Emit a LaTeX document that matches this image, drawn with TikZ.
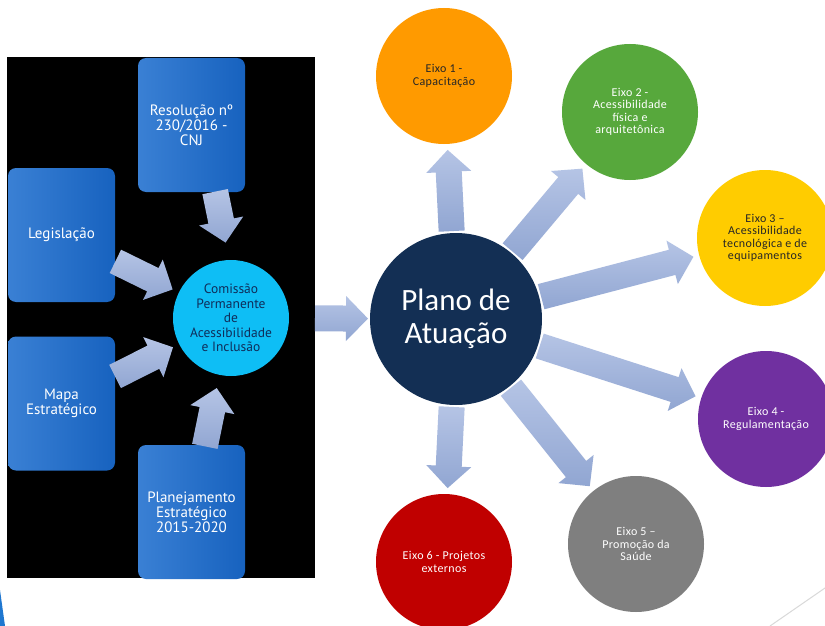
\documentclass[tikz,border=0pt]{standalone}
\usepackage{fontspec}
\setmainfont{Carlito}
\newfontfamily\boxfont{PT Sans}
\newfontfamily\eixofont[LetterSpace=3]{Carlito}
\usetikzlibrary{calc}
\definecolor{boxleft}{HTML}{3A80D4}
\definecolor{boxright}{HTML}{1762BF}
\definecolor{comcyan}{HTML}{0EBEF5}
\definecolor{comtext}{HTML}{0F2D5A}
\definecolor{planonavy}{HTML}{132F54}
\definecolor{arrowtop}{HTML}{B5C4E5}
\definecolor{arrowbot}{HTML}{91A6D2}
\definecolor{eixoorange}{HTML}{FF9A00}
\definecolor{eixogreen}{HTML}{57A83C}
\definecolor{eixoyellow}{HTML}{FFCC00}
\definecolor{eixopurple}{HTML}{7030A0}
\definecolor{eixogray}{HTML}{7F7F7F}
\definecolor{eixored}{HTML}{C00000}
\definecolor{slideblue}{HTML}{1F77D0}
\tikzset{%
	source box/.style={
		rectangle,
		rounded corners=8pt,
		left color=boxleft,
		right color=boxright,
		minimum width=107pt,
		minimum height=134pt,
		align=center,
		text=white,
		font=\boxfont\fontsize{15}{15}\selectfont
	},
	eixo/.style={
		circle,
		minimum size=136pt,
		inner sep=0pt,
		align=center,
		font=\eixofont\fontsize{12}{12.5}\selectfont
	},
	arrow fill/.style={
		top color=arrowtop,
		bottom color=arrowbot,
		draw=none
	},
}
% block arrow from node #1 to node #2, leaving #3 at the start and #4 at the end
\newcommand{\fatarrow}[4]{%
	\path ($(#1)!#3!(#2)$) coordinate (fa-t)
	      ($(#2)!#4!(#1)$) coordinate (fa-h);
	\path ($(fa-h)!22pt!(fa-t)$) coordinate (fa-b);
	\shade[arrow fill] ($(fa-t)!13pt!90:(fa-h)$) -- ($(fa-b)!13pt!-90:(fa-t)$)
		-- ($(fa-b)!22.5pt!-90:(fa-t)$) -- (fa-h)
		-- ($(fa-b)!22.5pt!90:(fa-t)$) -- ($(fa-b)!13pt!90:(fa-t)$)
		-- ($(fa-t)!13pt!-90:(fa-h)$) -- cycle;
}
\begin{document}
\begin{tikzpicture}[x=1pt, y=-1pt]
			\useasboundingbox[fill=white] (0,0) rectangle (825,626);
			% Draw the black panel
			\fill[black] (7,57) rectangle (315,578);
			
			% Draw the four sources
			\node[source box] (res) at (191.5,125) {Resolução nº\\230/2016 -\\CNJ};
			\node[source box] (leg) at (61.5,235) {Legislação};
			\node[source box] (mapa) at (61.5,403.5) {Mapa\\Estratégico};
			\node[source box] (plan) at (191.5,512) {Planejamento\\Estratégico\\2015-2020};
			\coordinate (res-out) at ([xshift=10pt]res.center);
			
			% Draw the commission circle
			\node[circle, fill=comcyan, minimum size=116pt, inner sep=0pt, align=center,
				text=comtext, font=\boxfont\fontsize{13.5}{14.6}\selectfont] (com) at (231,318)
				{Comissão\\Permanente\\de\\Acessibilidade\\e Inclusão};
			\coordinate (com-in) at ([xshift=10pt]com.center);
			
			% Draw the arrows into the commission
			\fatarrow{res-out}{com-in}{68pt}{77pt}
			\fatarrow{leg}{com}{60pt}{65pt}
			\fatarrow{mapa}{com}{60pt}{65pt}
			\fatarrow{plan}{com}{67pt}{71.5pt}
			
			% Draw the central circle
			\node[circle, fill=planonavy, minimum size=172pt, inner sep=0pt, align=center,
				text=white, font=\fontsize{31}{33}\selectfont] (plano) at (456,319) {Plano de\\Atuação};
			\fatarrow{com}{plano}{84pt}{88pt}
			
			% Draw the six axes
			\node[eixo, fill=eixoorange, text=black!85] (eixo1) at (444,76) {Eixo 1 -\\Capacitação};
			\node[eixo, fill=eixogreen, text=white] (eixo2) at (630,112) {Eixo 2 -\\Acessibilidade\\física e\\arquitetônica};
			\node[eixo, fill=eixoyellow, text=black!85] (eixo3) at (765,238) {Eixo 3 –\\Acessibilidade\\tecnológica e de\\equipamentos};
			\node[eixo, fill=eixopurple, text=white] (eixo4) at (766,419) {Eixo 4 -\\Regulamentação};
			\node[eixo, fill=eixogray, text=white] (eixo5) at (636,544) {Eixo 5 –\\Promoção da\\Saúde};
			\node[eixo, fill=eixored, text=white] (eixo6) at (444,562) {Eixo 6 - Projetos\\externos};
			
			% Draw the arrows out of the plan
			\foreach \e in {1,...,6}{
				\fatarrow{plano}{eixo\e}{88pt}{74pt}
			}
			
			% Slide corners
			\fill[slideblue] (0,590) -- (5,626) -- (0,626) -- cycle;
			\draw[black!15, line width=1pt] (770,626) -- (825,588);
			
		\end{tikzpicture}
\end{document}
